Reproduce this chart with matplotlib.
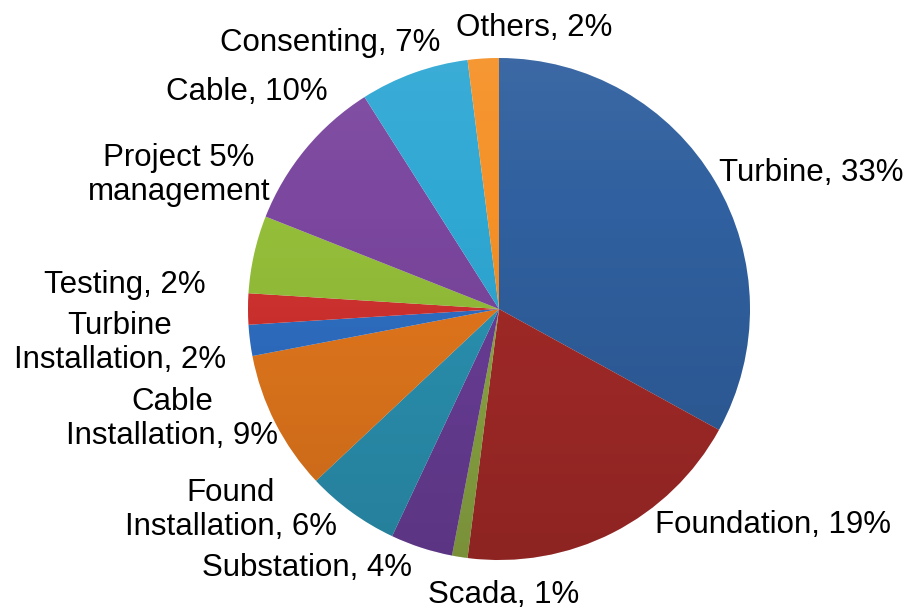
import matplotlib.pyplot as plt
import numpy as np
from matplotlib.patches import Circle

# Offshore wind farm cost breakdown (% of total)
categories = ['Turbine', 'Foundation', 'Scada', 'Substation', 'Found Installation',
              'Cable Installation', 'Turbine Installation', 'Testing',
              'Project management', 'Cable', 'Consenting', 'Others']
shares = [33, 19, 1, 4, 6, 9, 2, 2, 5, 10, 7, 2]
labels = ['Turbine, 33%', 'Foundation, 19%', 'Scada, 1%', 'Substation, 4%',
          'Found\nInstallation, 6%', 'Cable\nInstallation, 9%',
          'Turbine\nInstallation, 2%', 'Testing, 2%', 'Project 5%\nmanagement',
          'Cable, 10%', 'Consenting, 7%', 'Others, 2%']

colors = ['#30609f', '#a42a28', '#8da843', '#6a3e98', '#2b93b3', '#e5781d',
          '#2f6fc5', '#d2322f', '#95bf3a', '#7b479f', '#2fa8d4', '#f59127']

# label anchor points in figure pixels (x, y from top) and horizontal alignment
label_pos = [(719, 173, 'left'), (655, 525, 'left'), (504, 595, 'center'),
             (307, 568, 'center'), (231, 510, 'center'), (172, 419, 'center'),
             (120, 343, 'center'), (125, 285, 'center'), (179, 175, 'center'),
             (247, 92, 'center'), (330, 43, 'center'), (534, 28, 'center')]

W, H = 909, 613
cx, cy, r = 499, 309, 251

plt.rcParams['font.family'] = ['Liberation Sans', 'DejaVu Sans']
fig = plt.figure(figsize=(W / 100, H / 100), dpi=100)
ax = fig.add_axes([(cx - r) / W, (H - cy - r) / H, 2 * r / W, 2 * r / H])

wedges, _ = ax.pie(shares, colors=colors, startangle=90, counterclock=False,
                   wedgeprops=dict(linewidth=0))
ax.set_xlim(-1, 1)
ax.set_ylim(-1, 1)
ax.set_aspect('equal')

# soft shading: faint highlight at the top, darker towards the bottom
grad = np.linspace(0, 1, 256)[:, None]
shade = np.zeros((256, 2, 4))
shade[..., :3] = np.where(grad < 0.3, 1.0, 0.0)[..., None]
shade[..., 3] = np.where(grad < 0.3, (0.3 - grad) * 0.2, (grad - 0.3) * 0.2)
img = ax.imshow(shade, extent=(-1, 1, -1, 1), origin='upper', aspect='auto',
                interpolation='bilinear', zorder=3)
clip = Circle((0, 0), 1, transform=ax.transData)
img.set_clip_path(clip)

for text, (x, y, ha) in zip(labels, label_pos):
    fig.text(x / W, 1 - y / H, text, ha=ha, va='center', fontsize=22.5,
             color='black', multialignment='center', linespacing=1.2)

fig.savefig('out.png', dpi=100, facecolor='white')
